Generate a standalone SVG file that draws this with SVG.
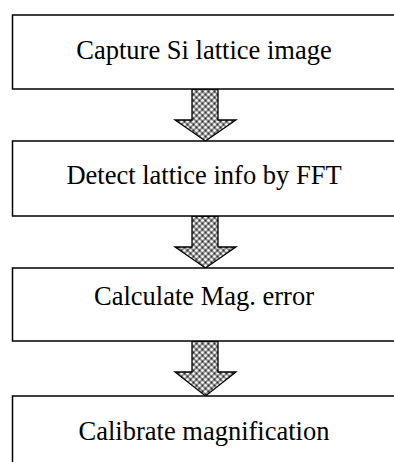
<svg xmlns="http://www.w3.org/2000/svg" width="394" height="462" viewBox="0 0 394 462">
<defs>
<pattern id="chk" width="6" height="6" patternUnits="userSpaceOnUse">
<rect width="6" height="6" fill="#8a8a8a"/>
<circle cx="1.5" cy="1.5" r="1.3" fill="#ffffff"/>
<circle cx="4.5" cy="4.5" r="1.3" fill="#ffffff"/>
<circle cx="4.5" cy="1.5" r="0.9" fill="#333"/>
<circle cx="1.5" cy="4.5" r="0.9" fill="#333"/>
</pattern>
</defs>
<style>
.box{fill:#fff;stroke:#000;stroke-width:1.5}
.lbl{font-family:"Liberation Serif","Times New Roman",serif;font-size:26.5px;fill:#000;text-anchor:middle}
.arr{fill:url(#chk);stroke:#000;stroke-width:1.3;stroke-linejoin:miter}
</style>
<g id="connectors">
<path class="arr" d="M192,89 H218 V120 H236 L205.5,141 L175,120 H192 Z"/>
<path class="arr" d="M192,216 H218 V247 H236 L205.5,268 L175,247 H192 Z"/>
<path class="arr" d="M192,341 H218 V372 H236 L205.5,396 L175,372 H192 Z"/>
</g>
<g id="n1"><rect class="box" x="12.5" y="15" width="400" height="74"/><text class="lbl" x="204" y="59">Capture Si lattice image</text></g>
<g id="n2"><rect class="box" x="12.5" y="141" width="400" height="75"/><text class="lbl" x="204" y="184">Detect lattice info by FFT</text></g>
<g id="n3"><rect class="box" x="12.5" y="268" width="400" height="73"/><text class="lbl" x="204" y="305">Calculate Mag. error</text></g>
<g id="n4"><rect class="box" x="12.5" y="396" width="400" height="100"/><text class="lbl" x="204" y="440">Calibrate magnification</text></g>
</svg>
